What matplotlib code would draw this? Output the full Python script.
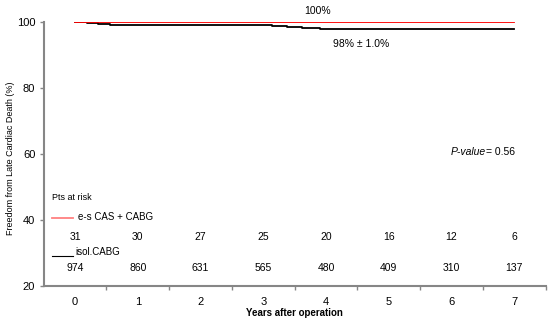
import matplotlib
matplotlib.use("Agg")
import matplotlib.pyplot as plt

plt.rcParams['font.family'] = ['Liberation Sans', 'DejaVu Sans']

years = [0, 1, 2, 3, 4, 5, 6, 7]
risk_escas = [31, 30, 27, 25, 20, 16, 12, 6]
risk_isol = [974, 860, 631, 565, 480, 409, 310, 137]

escas_t = [0, 7]
escas_s = [100, 100]
isol_t = [0, 0.19, 0.37, 0.56, 0.77, 3.14, 3.38, 3.62, 3.91, 7]
isol_s = [100, 99.7, 99.4, 99.2, 99.1, 98.8, 98.5, 98.2, 98.0, 98.0]

fig = plt.figure(figsize=(5.5, 3.23), dpi=100)
ax = fig.add_axes([0.0793, 0.115, 0.9127, 0.817])

ax.step(isol_t, isol_s, where='post', color='black', lw=1.3, zorder=3)
ax.plot(escas_t, escas_s, color='#ff0000', lw=1.3, zorder=4)

ax.set_xlim(-0.5, 7.5)
ax.set_ylim(20, 100)

gray = '#868686'
for s in ['top', 'right']:
    ax.spines[s].set_visible(False)
for s in ['left', 'bottom']:
    ax.spines[s].set_color(gray)
    ax.spines[s].set_linewidth(1.5)

ax.set_yticks([20, 40, 60, 80, 100])
ax.tick_params(axis='y', direction='out', length=3, width=1, color=gray, labelsize=8, pad=3)
ax.set_xticks(years)
ax.set_xticklabels([str(y) for y in years])
ax.tick_params(axis='x', which='major', length=0, labelsize=8, pad=8)
ax.set_xticks([y + 0.5 for y in years], minor=True)
ax.tick_params(axis='x', which='minor', direction='out', length=3, width=1, color=gray)

ax.set_xlabel('Years after operation', fontsize=7, fontweight='bold', labelpad=1)
fig.text(0.02, 0.51, 'Freedom from Late Cardiac Death (%)', rotation=90,
         ha='center', va='center', fontsize=6.5)

ax.text(3.87, 103.3, '100%', ha='center', va='center', fontsize=7.5, clip_on=False)
ax.text(4.56, 93.3, '98% ± 1.0%', ha='center', va='center', fontsize=7.5)
ax.text(6.55, 60.6, 'P-value', ha='right', va='center', fontsize=7.5, style='italic')
ax.text(6.55, 60.6, '= 0.56', ha='left', va='center', fontsize=7.5)

ax.text(-0.37, 46.7, 'Pts at risk', ha='left', va='center', fontsize=6.5)
ax.plot([-0.37, -0.03], [40.6, 40.6], color='#ff8080', lw=1.3, clip_on=False)
ax.text(0.05, 40.9, 'e-s CAS + CABG', ha='left', va='center', fontsize=7)
ax.plot([-0.37, -0.03], [29.1, 29.1], color='black', lw=0.8, clip_on=False)
ax.text(0.0, 30.2, 'isol.CABG', ha='left', va='center', fontsize=7)

for x, a, b in zip(years, risk_escas, risk_isol):
    ax.text(x, 34.9, str(a), ha='center', va='center', fontsize=7.5)
    ax.text(x, 25.5, str(b), ha='center', va='center', fontsize=7.5)

fig.savefig('out.png', dpi=100)
